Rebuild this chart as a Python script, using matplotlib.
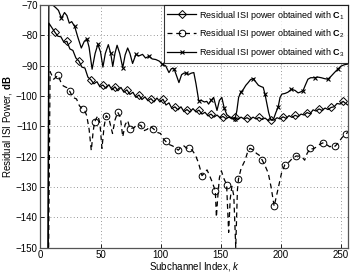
import numpy as np
import matplotlib

matplotlib.use("Agg")

import matplotlib.pyplot as plt


# ==================================================
# Data
# ==================================================
k_c1 = [6.5, 7, 9.5, 12, 14.5, 17, 19.5, 22, 24.5, 27, 29.5, 32, 34.5, 37, 39.5,
        42, 44.5, 47, 49.5, 52, 54.5, 57, 59.5, 62, 64.5, 67, 69.5, 72, 74.5,
        77, 79.5, 82, 84.5, 87, 89.5, 92, 94.5, 97, 99.5, 102, 104.5, 107,
        109.5, 112, 114.5, 117, 119.5, 122, 124.5, 127, 129.5, 132, 134.5, 137,
        139.5, 142, 144.5, 147, 149.5, 152, 154.5, 157, 159.5, 162, 164.5, 167,
        169.5, 172, 174.5, 177, 179.5, 182, 184.5, 187, 189.5, 192, 194.5, 197,
        199.5, 202, 204.5, 207, 209.5, 212, 214.5, 217, 219.5, 222, 224.5, 227,
        229.5, 232, 234.5, 237, 239.5, 242, 244.5, 247, 249.5, 252, 254.5, 256]
isi_c1 = [-150, -76, -77.5, -79, -80.3, -80.5, -82.3, -82, -84.5, -85, -87.5,
          -88.5, -90.5, -90.8, -93.8, -94.7, -96, -95.3, -97, -96.4, -97.5,
          -96.3, -98, -97, -98.3, -97.2, -98.8, -98, -99.5, -98.8, -100.5,
          -99.7, -101.2, -100.3, -101.6, -100.9, -102, -100.7, -102, -101.1,
          -103, -102.3, -104.2, -103.6, -104.6, -103.6, -105.2, -104.5, -105.3,
          -104.2, -105.3, -104.7, -106, -105.4, -106.6, -106, -107, -106.3,
          -107.2, -106.8, -107.5, -107, -107.6, -107.1, -107.8, -107, -107.6,
          -107.2, -107.8, -107, -107.6, -107.1, -107.8, -107.3, -108.1, -107.8,
          -108, -107.2, -107.6, -106.9, -107.4, -106.5, -107.1, -106.4, -106.8,
          -106, -106.3, -105.5, -105.9, -104.6, -105, -104.3, -104.8, -104,
          -104.5, -103.8, -103.6, -102.5, -102.7, -101.8, -102.6, -103]

k_c2 = [6.8, 8, 11, 14.7, 17, 19, 22, 24.4, 27, 30, 32.5, 35, 37, 38.5, 40.5,
        42.3, 43.8, 45, 47.8, 49.5, 51.2, 53, 54.7, 57, 60, 62, 64.3, 66.5,
        68.5, 70.5, 72.6, 74.5, 78, 80, 83.6, 86, 89, 91, 94, 97, 100, 102,
        104.3, 107, 110, 112, 114.7, 117, 119.5, 121.5, 124, 126.5, 129, 131.5,
        133.2, 134.5, 136.5, 138.7, 140.5, 142.8, 145.6, 146.5, 147.5, 149,
        150.6, 153, 155, 156.7, 158, 159.4, 161, 162.6, 164, 164.9, 167, 170.4,
        172.5, 174.5, 177, 180, 182, 184.7, 187, 189.7, 192, 194.6, 196.5, 198,
        200.7, 203.5, 207, 210, 213, 216, 218.5, 220, 222, 224.6, 227, 230,
        232.5, 235, 238, 241, 243, 245.3, 248, 251, 254.4, 256]
isi_c2 = [-150, -92, -94.5, -93.2, -95.5, -96.7, -97.3, -98.5, -100.5, -101,
          -103.3, -104.3, -105, -106.5, -111, -118, -112, -108.6, -106.5, -109,
          -117.3, -110, -106.5, -107.5, -112.4, -108, -105.4, -107, -113.5,
          -109.5, -108.1, -110.8, -110.5, -109.5, -109.7, -111.5, -111, -110,
          -110.8, -112, -112.4, -114, -115, -116, -116.5, -117, -117.9, -117,
          -116.5, -117.2, -117.3, -118, -119.5, -122, -124.4, -126.3, -125.5,
          -124.4, -126, -128.2, -131.3, -140, -134, -127, -124.7, -127.5,
          -129.3, -145, -134, -129.8, -133, -150, -131, -127.4, -124, -121.2,
          -118.5, -117.3, -117.8, -119, -119.5, -121.2, -123, -125.5, -130,
          -136.4, -133, -130.4, -125.5, -122.7, -121.8, -120.5, -119.8, -119.9,
          -120.5, -121.2, -119, -117.3, -117.5, -116.8, -116, -115.5, -116,
          -116.8, -116.3, -116.6, -115.5, -113.8, -112.5, -112]

k_c3 = [6.2, 7, 9, 11, 13, 15, 17.5, 20, 22, 24, 26, 28.5, 31, 34, 36.5, 38.7,
        40.5, 43, 45.5, 47.8, 50, 52, 54, 56.5, 58.5, 60.2, 62, 63.8, 66, 68.5,
        70.5, 72.6, 74.5, 76.7, 79.5, 82, 85, 87.5, 90.5, 93, 96, 98.8, 101.5,
        104.3, 107, 109, 111.2, 113, 115.3, 117.5, 119.4, 121.5, 123.6, 125.5,
        127.7, 129.5, 131.8, 134, 136.5, 138.5, 140, 142, 144.2, 145.5, 147,
        149, 151, 153, 155.2, 158, 160, 162, 163.5, 165, 166.8, 169, 171, 173,
        175, 177.3, 179.5, 181.5, 183.5, 185.5, 187, 188.3, 190, 191.5, 192.8,
        194.5, 196, 197.9, 199.5, 201, 203.5, 206, 209, 212, 214.5, 216, 218.6,
        220.5, 222.7, 225, 228.3, 231, 233.8, 236.5, 239.3, 242, 244.8, 247.5,
        250.2, 252.5, 254.4, 256]
isi_c3 = [-150, -68, -69.5, -70.3, -71, -71.8, -74.4, -72.5, -73.5, -76,
          -75.5, -77.1, -80.5, -84.2, -82, -81.2, -84, -91.2, -86, -83, -85.5,
          -90.5, -86, -83.1, -86, -90.3, -86, -83.3, -86, -90.7, -86.5, -84.2,
          -86, -89.3, -86.3, -86.8, -86.3, -87.5, -86.9, -87.8, -88, -88.5,
          -89.5, -90.1, -92.3, -91, -91, -93, -95.6, -93, -92.5, -92.5, -92.9,
          -92.5, -92.3, -96, -101.6, -101.5, -102, -101.8, -102.7, -101.5,
          -100.5, -102.5, -104.8, -101.5, -100.5, -104, -106.2, -107, -107.3,
          -107.6, -105, -100.5, -98.8, -97.8, -96.5, -95.6, -94.6, -94.3, -95.5,
          -96.5, -96.9, -97.2, -99.5, -102.1, -105.5, -107.5, -108.1, -107.2,
          -105.5, -103.7, -100.5, -99.4, -99.2, -98.8, -97.8, -98.2, -99, -98.8,
          -98.3, -96.5, -94.5, -94, -94, -93.8, -94, -94.3, -94.5, -93.5, -92.3,
          -91.2, -90.2, -89.8, -89.6, -89.5]

# subchannels where markers sit on each curve
marks_c1 = [12, 22, 32, 42, 52, 62, 72, 82, 92, 102, 112, 122, 132, 142, 152,
            162, 172, 182, 192, 202, 212, 222, 232, 242, 252]
marks_c2 = [14.7, 24.4, 35, 45, 54.7, 64.3, 74.5, 83.6, 94, 104.3, 114.7, 124,
            134.5, 145.6, 155, 164.9, 174.5, 184.7, 194.6, 203.5, 213, 224.6,
            235, 245.3, 254.4]
marks_c3 = [17.5, 28.5, 38.7, 47.8, 58.5, 68.5, 79.5, 90.5, 101.5, 111.2,
            121.5, 131.8, 142, 153, 162, 166.8, 177.3, 187, 197.9, 209, 218.6,
            228.3, 239.3, 247.5]

labels = [r"Residual ISI power obtained with $\mathbf{C}_1$",
          r"Residual ISI power obtained with $\mathbf{C}_2$",
          r"Residual ISI power obtained with $\mathbf{C}_3$"]


def nearest_idx(k, marks):
    k = np.asarray(k)
    return [int(np.argmin(np.abs(k - m))) for m in marks]


# ==================================================
# Figure
# ==================================================
plt.rcParams["font.family"] = ["Liberation Sans", "DejaVu Sans"]
plt.rcParams["mathtext.fontset"] = "custom"
plt.rcParams["mathtext.rm"] = "Liberation Sans"
plt.rcParams["mathtext.it"] = "Liberation Sans:italic"
plt.rcParams["mathtext.bf"] = "Liberation Sans:bold"

fig = plt.figure(figsize=(3.55, 2.75), dpi=100)
ax = fig.add_axes([0.114, 0.1, 0.866, 0.882])

ax.plot(k_c1, isi_c1, color="black", linestyle="-", linewidth=0.9,
        marker="D", markersize=4.0, markerfacecolor="none",
        markeredgewidth=0.7, markevery=nearest_idx(k_c1, marks_c1),
        label=labels[0])
ax.plot(k_c2, isi_c2, color="black", linestyle=(0, (4, 3)), linewidth=0.9,
        marker="o", markersize=4.8, markerfacecolor="none",
        markeredgewidth=0.7, markevery=nearest_idx(k_c2, marks_c2),
        label=labels[1])
ax.plot(k_c3, isi_c3, color="black", linestyle="-", linewidth=0.9,
        marker="x", markersize=3.4, markeredgewidth=0.8,
        markevery=nearest_idx(k_c3, marks_c3),
        label=labels[2])

ax.set_xlim(0, 256)
ax.set_ylim(-150, -70)
ax.set_xticks([0, 50, 100, 150, 200, 250])
ax.set_yticks(np.arange(-150, -69, 10))
ax.tick_params(direction="in", labelsize=7, length=3, width=0.6, pad=2)
ax.tick_params(axis="x", pad=1.5)
ax.grid(True, linestyle=(0, (1, 3)), color="#777777", linewidth=0.6)
for sp in ax.spines.values():
    sp.set_linewidth(0.9)
    sp.set_color("#555555")

ax.set_xlabel(r"Subchannel Index, $k$", fontsize=7)
ax.xaxis.set_label_coords(0.5, -0.052)
ax.set_ylabel(r"Residual ISI Power, $\mathbf{dB}$", fontsize=7, labelpad=1)

leg = ax.legend(loc="upper right", fontsize=6.5, frameon=True, fancybox=False,
                edgecolor="black", borderaxespad=0, borderpad=0.4,
                labelspacing=0.65, handlelength=3.2, handletextpad=0.3,
                numpoints=1)
leg.get_frame().set_linewidth(0.8)

fig.savefig("out.png", dpi=100)
